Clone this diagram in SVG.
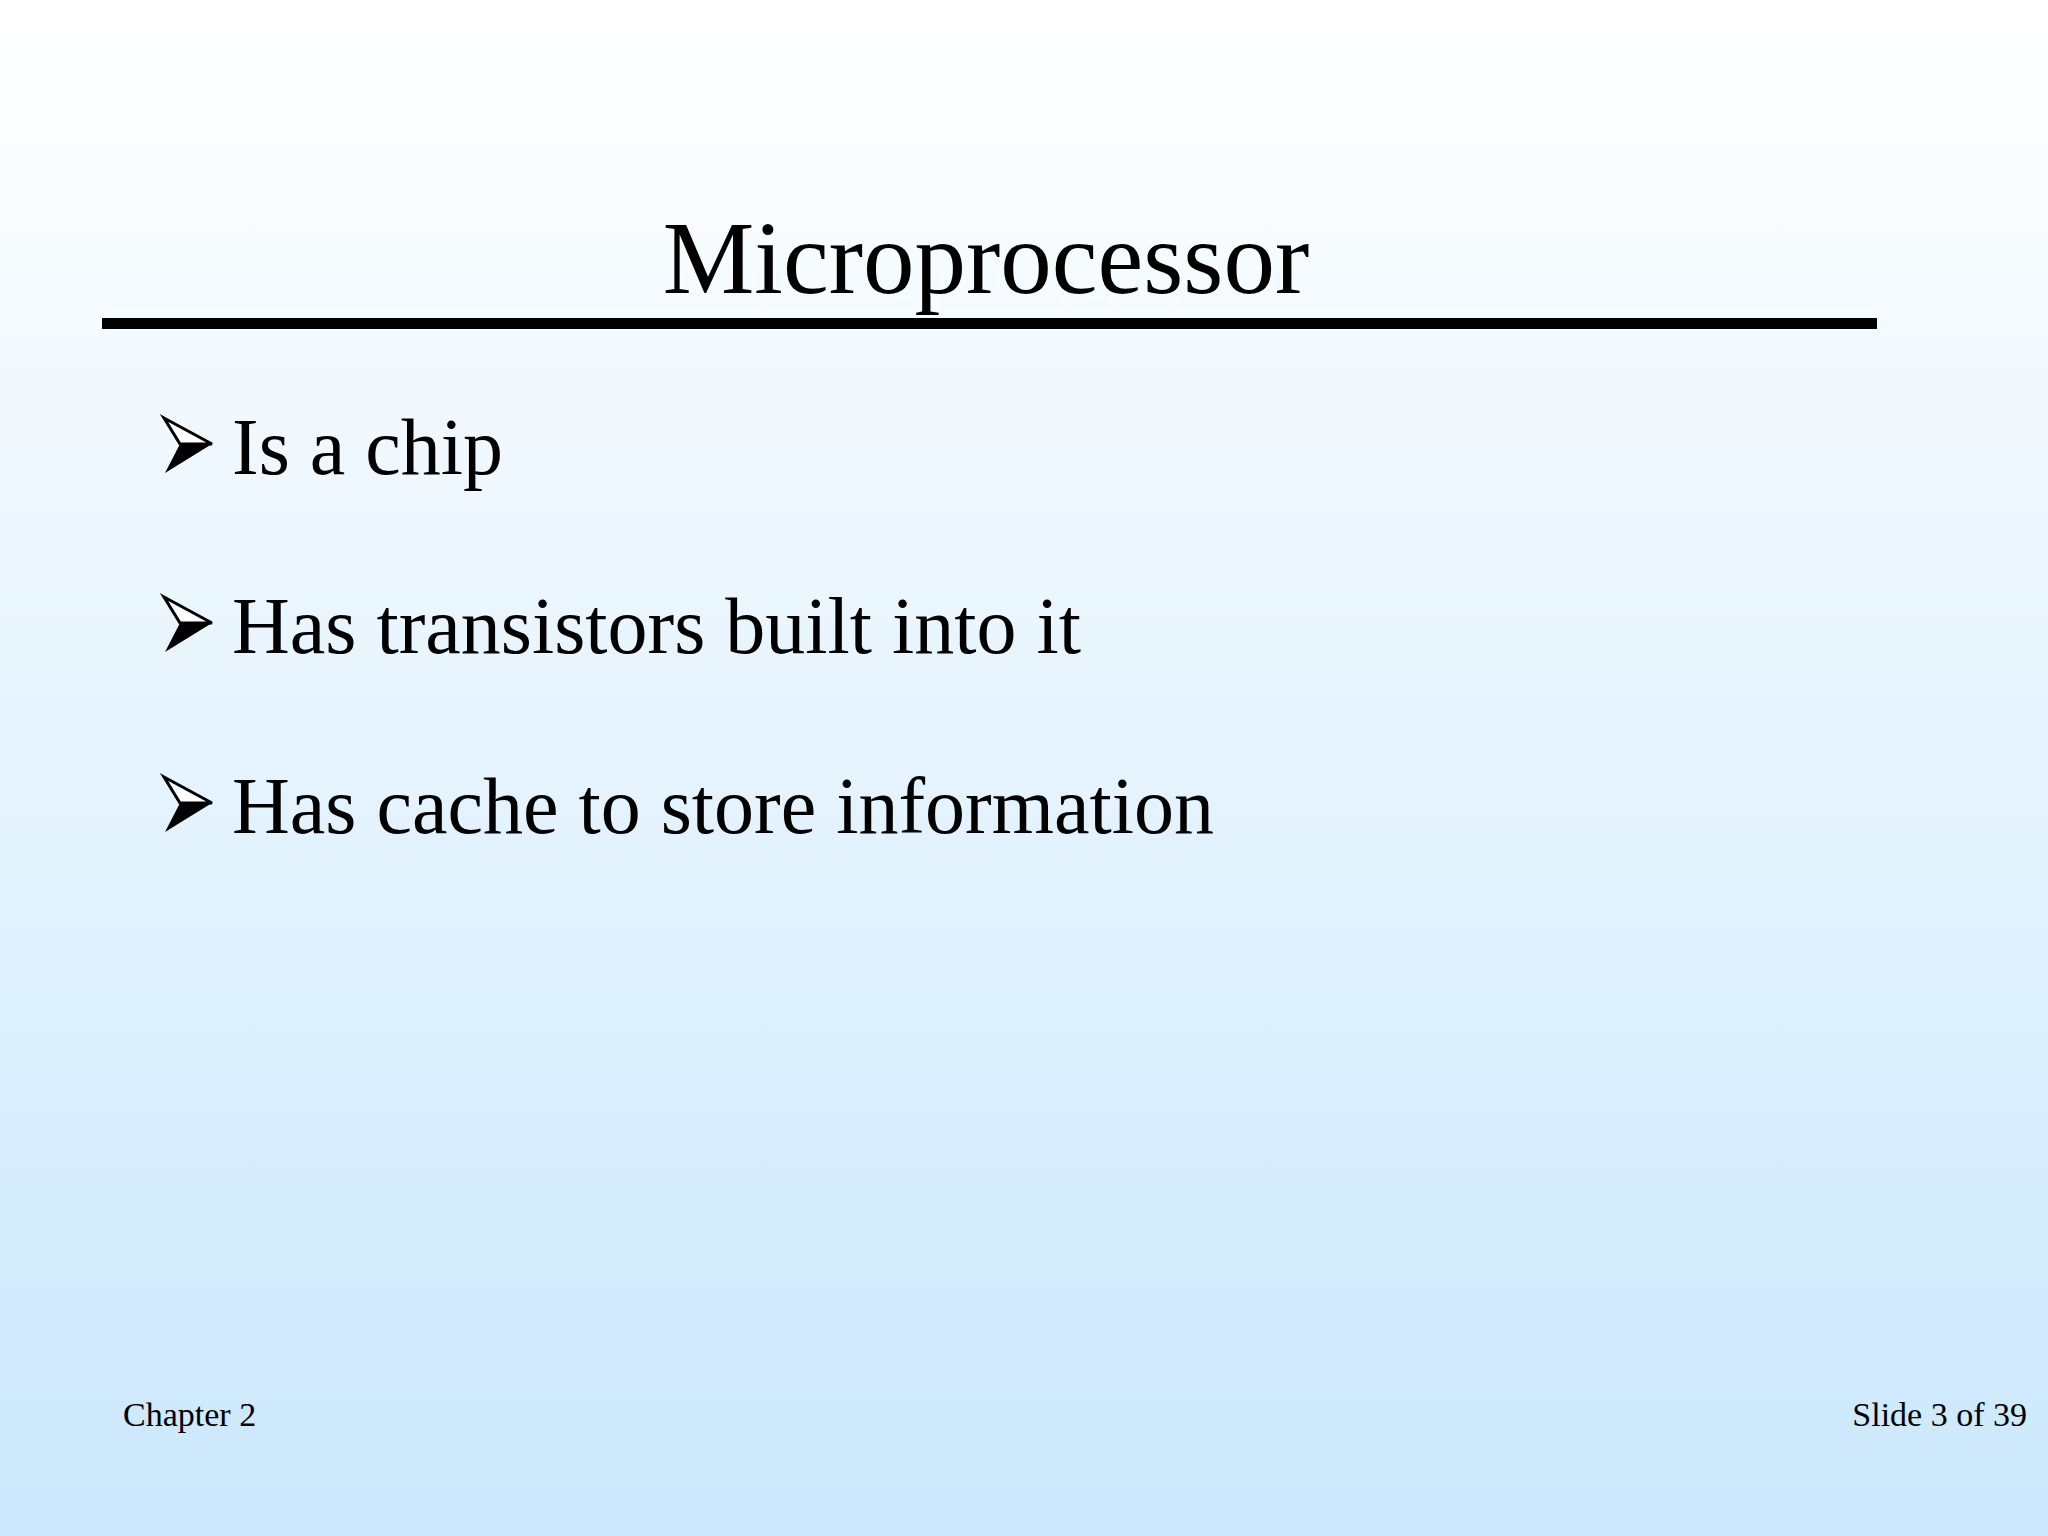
<svg xmlns="http://www.w3.org/2000/svg" width="2048" height="1536" viewBox="0 0 2048 1536">
<defs>
<linearGradient id="bg" x1="0" y1="0" x2="0" y2="1">
<stop offset="0" stop-color="#ffffff"/>
<stop offset="1" stop-color="#cbe8fc"/>
</linearGradient>
<g id="arrow">
<polygon points="0,0 48,26 16,26" fill="#fff" stroke="#000" stroke-width="3"/>
<polygon points="16,26 48,26 1,55" fill="#000"/>
</g>
<style>
.t{font-family:"Liberation Serif",serif;fill:#000}
.b{font-size:80px}
.f{font-size:34px}
</style>
</defs>
<rect width="2048" height="1536" fill="url(#bg)"/>
<g id="title">
<text class="t" x="986" y="293" font-size="103" text-anchor="middle">Microprocessor</text>
<rect x="102" y="318" width="1775" height="11" fill="#000"/>
</g>
<g id="bullet1"><use href="#arrow" x="164" y="418"/><text class="t b" x="232" y="474">Is a chip</text></g>
<g id="bullet2"><use href="#arrow" x="164" y="597"/><text class="t b" x="232" y="653">Has transistors built into it</text></g>
<g id="bullet3"><use href="#arrow" x="164" y="777"/><text class="t b" x="232" y="833">Has cache to store information</text></g>
<g id="footer">
<text class="t f" x="123" y="1426">Chapter 2</text>
<text class="t f" x="2027" y="1426" text-anchor="end">Slide 3 of 39</text>
</g>
</svg>
